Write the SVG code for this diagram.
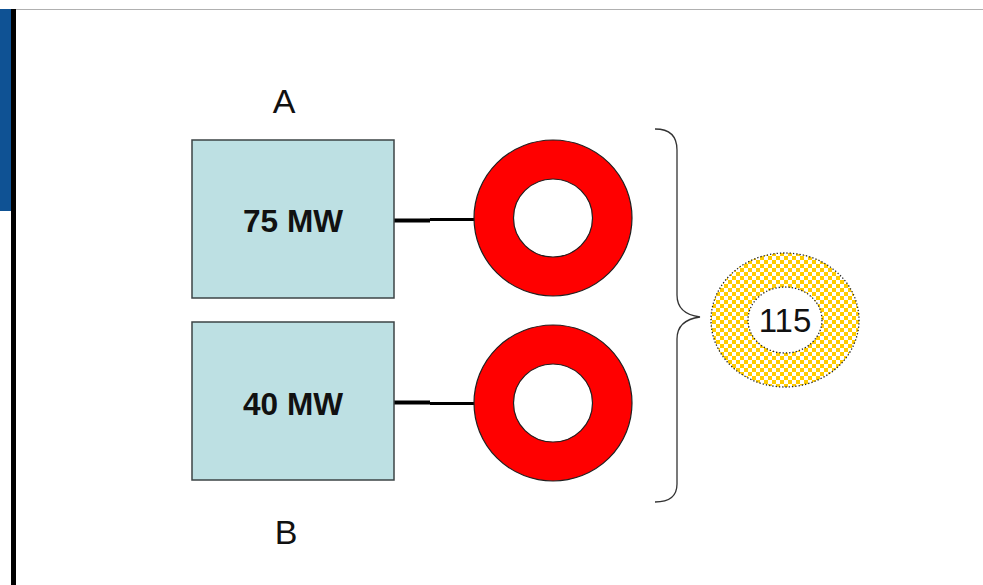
<svg xmlns="http://www.w3.org/2000/svg" width="983" height="585" viewBox="0 0 983 585">
<defs>
<pattern id="chk" width="8" height="8" patternUnits="userSpaceOnUse">
<rect width="8" height="8" fill="#ffffff"/>
<rect width="4" height="4" fill="#ffcc00"/>
<rect x="4" y="4" width="4" height="4" fill="#ffcc00"/>
</pattern>
<style>
.box{fill:#bde0e3;stroke:#3c4446;stroke-width:1.5}
.ring{fill:#ff0000;stroke:#202020;stroke-width:1.2}
.hole{fill:#ffffff;stroke:#202020;stroke-width:1.2}
.lbl{font-family:"Liberation Sans",Arial,sans-serif;font-weight:bold;font-size:31px;fill:#111;text-anchor:middle}
.cap{font-family:"Liberation Sans",Arial,sans-serif;font-size:34px;fill:#111;text-anchor:middle}
.dot{stroke:#222;stroke-width:1.3;stroke-dasharray:1.3 2}
</style>
</defs>
<rect x="0" y="0" width="983" height="585" fill="#ffffff"/>
<rect x="0" y="9" width="11" height="202" fill="#0f5294"/>
<rect x="11" y="9" width="5" height="576" fill="#000000"/>
<line x1="16" y1="9.5" x2="983" y2="9.5" stroke="#b0b0b0" stroke-width="1"/>
<text class="cap" x="284" y="113">A</text>
<text class="cap" x="286" y="544">B</text>
<g id="connectors" stroke="#000" fill="none">
<path d="M394 220.5 H430" stroke-width="4"/>
<path d="M430 219.5 H475" stroke-width="3"/>
<path d="M394 402.5 H430" stroke-width="4"/>
<path d="M430 403.5 H475" stroke-width="3"/>
<path d="M655 129 C668 129 677 135 677 150 V295 C677 308 685 315 700 317 C685 319 677 326 677 339 V484 C677 497 668 502 655 502" stroke="#333" stroke-width="1.3"/>
</g>
<g id="boxA">
<rect class="box" x="192" y="140" width="202" height="158"/>
<text class="lbl" x="293" y="232" textLength="100" lengthAdjust="spacingAndGlyphs">75 MW</text>
</g>
<g id="boxB">
<rect class="box" x="192" y="322" width="202" height="158"/>
<text class="lbl" x="293" y="415" textLength="100" lengthAdjust="spacingAndGlyphs">40 MW</text>
</g>
<g id="ringA">
<ellipse class="ring" cx="553" cy="218" rx="79" ry="78"/>
<ellipse class="hole" cx="553" cy="218" rx="39.5" ry="39"/>
</g>
<g id="ringB">
<ellipse class="ring" cx="553" cy="403" rx="79" ry="78"/>
<ellipse class="hole" cx="553" cy="403" rx="39.5" ry="39"/>
</g>
<g id="total">
<ellipse cx="785" cy="320" rx="74" ry="67" fill="url(#chk)" class="dot"/>
<ellipse cx="785" cy="320" rx="37" ry="33" fill="#ffffff" class="dot"/>
<text x="785" y="332" font-family="Liberation Sans, Arial, sans-serif" font-size="33" fill="#111" text-anchor="middle">115</text>
</g>
</svg>
